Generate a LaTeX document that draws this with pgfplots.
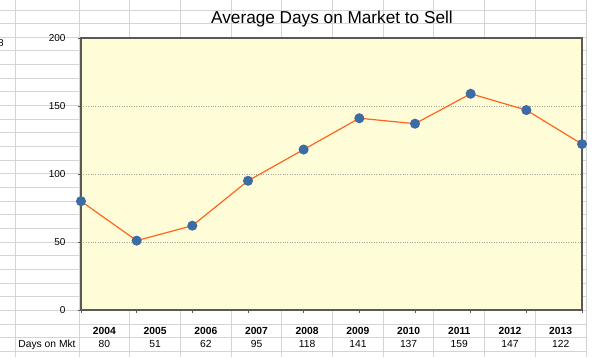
\documentclass[border=0pt]{standalone}
\usepackage{fontspec}
\setmainfont{Liberation Sans}
\usepackage{pgfplots}
\pgfplotsset{compat=1.18}
\definecolor{bgyellow}{HTML}{FFFDD8}
\definecolor{lineorange}{HTML}{FF6420}
\definecolor{markblue}{HTML}{3D6BA3}
\definecolor{sheetgrid}{HTML}{D4D4D4}
\definecolor{framegray}{HTML}{5A5A55}
\definecolor{dotgray}{HTML}{A8A89A}
\begin{document}
\begin{tikzpicture}[x=1pt,y=1pt]
\useasboundingbox (0,0) rectangle (600,357);
\clip (0,0) rectangle (600,357);
% spreadsheet grid
\foreach \k in {0,...,25} {
  \draw[sheetgrid, line width=0.9pt] (0,{357-10-13.65*\k}) -- (586,{357-10-13.65*\k});
}
\foreach \xx in {15,79,129.7,180.4,231.1,281.8,332.5,383.2,433.9,484.6,535.3,586} {
  \draw[sheetgrid, line width=0.9pt] (\xx,0) -- (\xx,357);
}
\node[font=\fontsize{10}{12}\selectfont, anchor=base west, inner sep=0pt] at (-2,310) {8};
\begin{axis}[
  at={(81pt,47pt)}, anchor=south west,
  scale only axis, width=501pt, height=272pt,
  xmin=2004, xmax=2013, ymin=0, ymax=200,
  xtick={2004,2005,...,2013}, xticklabels={},
  ytick={0,50,100,150,200},
  tick align=outside, tick pos=left,
  major tick length=3pt,
  tick style={framegray, line width=0.8pt},
  axis line style={framegray, line width=1.3pt},
  axis background/.style={fill=bgyellow},
  ymajorgrids, grid style={dotgray, dotted, line width=0.6pt},
  /pgf/number format/assume math mode=true,
  yticklabel style={font=\fontsize{10}{12}\selectfont, text=black, xshift=-9pt},
  clip=false,
]
\addplot[lineorange, line width=1.2pt, mark=*, mark size=4.4pt,
  mark options={fill=markblue, draw=markblue}]
  coordinates {(2004,80) (2005,51) (2006,62) (2007,95) (2008,118) (2009,141) (2010,137) (2011,159) (2012,147) (2013,122)};
\end{axis}
\node[font=\fontsize{17.2}{20}\selectfont, anchor=base, inner sep=0pt] at (332,333) {Average Days on Market to Sell};
\foreach \cx/\yr/\val in {104.4/2004/80, 155.1/2005/51, 205.8/2006/62, 256.5/2007/95, 307.2/2008/118, 357.9/2009/141, 408.6/2010/137, 459.3/2011/159, 510/2012/147, 560.7/2013/122} {
  \node[font=\bfseries\fontsize{10.3}{12}\selectfont, anchor=base, inner sep=0pt] at (\cx,23) {\yr};
  \node[font=\fontsize{10.3}{12}\selectfont, anchor=base, inner sep=0pt] at (\cx,9.5) {\val};
}
\node[font=\fontsize{10.3}{12}\selectfont, anchor=base, inner sep=0pt] at (47,9.5) {Days on Mkt};
\end{tikzpicture}
\end{document}
